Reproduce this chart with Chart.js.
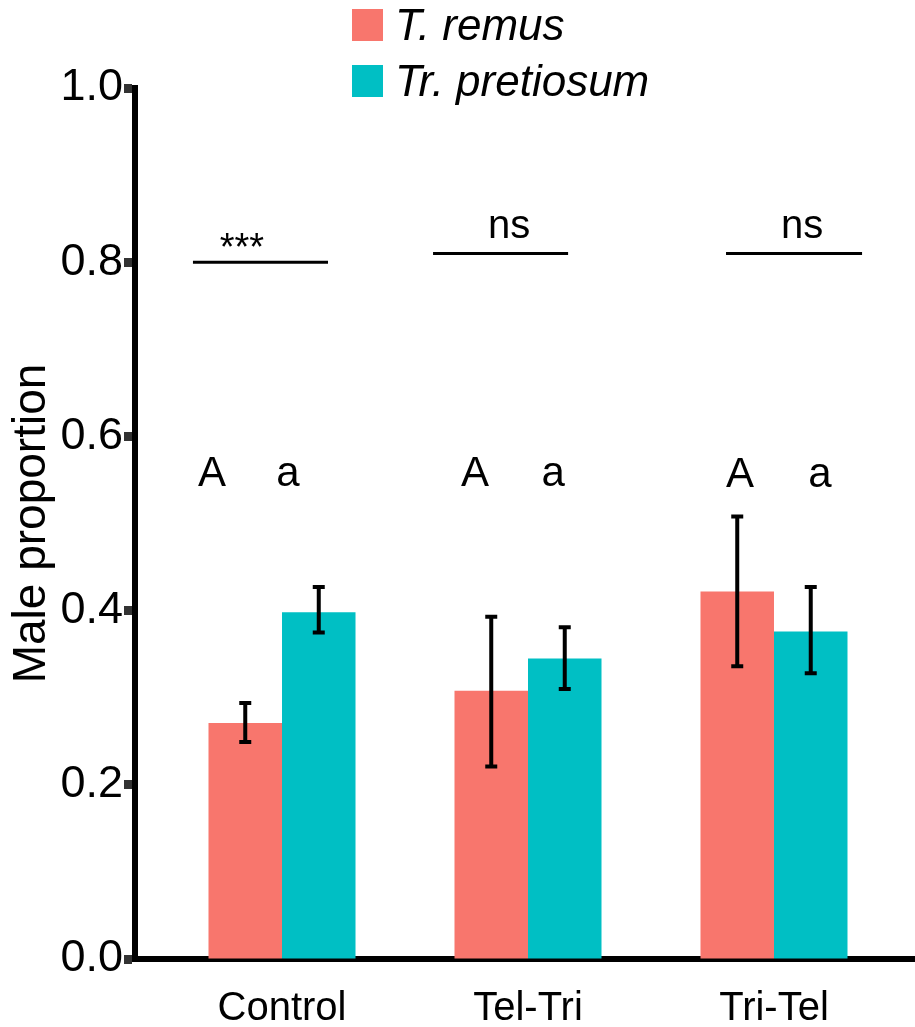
<!DOCTYPE html>
<html><head><meta charset="utf-8">
<script src="https://cdn.jsdelivr.net/npm/chart.js@4.4.1/dist/chart.umd.min.js"></script>
<style>
html,body{margin:0;padding:0;background:#fff;}
#wrap{position:relative;width:915px;height:1027px;}
#legend{position:absolute;left:352px;top:-3px;font-family:"Liberation Sans",Arial,Helvetica,sans-serif;font-style:italic;font-size:44px;color:#000;}
.item{display:flex;align-items:center;height:56px;white-space:nowrap;}
.box{width:31px;height:32px;margin-right:12px;flex:none;}
</style></head>
<body><div id="wrap"><canvas id="c" width="915" height="1027"></canvas><div id="legend"></div></div>
<script>
const categories = ['Control', 'Tel-Tri', 'Tri-Tel'];
const seriesNames = ['T. remus', 'Tr. pretiosum'];
const seriesColors = ['#F8766D', '#00BFC4'];
const remusMean = [0.271, 0.308, 0.422];
const remusLow  = [0.249, 0.221, 0.336];
const remusHigh = [0.294, 0.393, 0.508];
const pretMean = [0.398, 0.345, 0.376];
const pretLow  = [0.375, 0.310, 0.328];
const pretHigh = [0.427, 0.381, 0.427];
const yTickStep = 0.2;
const sigText = ['***', 'ns', 'ns'];
const sigLineY = [0.80, 0.81, 0.81];
const sigLineFrom = [-0.362, 0.614, 1.805];
const sigLineTo = [0.187, 1.163, 2.358];
const sigTextX = [-0.163, 0.923, 2.114];
const sigTextY = [0.803, 0.828, 0.828];
const groupLetters = ['A', 'a'];
const upperLetterX = [-0.285, 0.785, 1.862];
const lowerLetterX = [0.024, 1.102, 2.187];
const letterY = [0.543, 0.543, 0.542];

const FONT = '"Liberation Sans", Arial, Helvetica, sans-serif';
Chart.defaults.font.family = FONT;
Chart.defaults.color = '#000';

const means = [remusMean, pretMean];
const lows = [remusLow, pretLow];
const highs = [remusHigh, pretHigh];

const errorBars = {
  id: 'errorBars',
  afterDatasetsDraw(chart) {
    const ctx = chart.ctx, ys = chart.scales.y;
    ctx.save();
    ctx.strokeStyle = '#000';
    ctx.lineWidth = 4;
    chart.data.datasets.forEach((ds, d) => {
      const meta = chart.getDatasetMeta(d);
      meta.data.forEach((bar, i) => {
        const x = bar.x;
        const yH = ys.getPixelForValue(highs[d][i]);
        const yL = ys.getPixelForValue(lows[d][i]);
        ctx.beginPath();
        ctx.moveTo(x, yH); ctx.lineTo(x, yL);
        ctx.moveTo(x - 6, yH); ctx.lineTo(x + 6, yH);
        ctx.moveTo(x - 6, yL); ctx.lineTo(x + 6, yL);
        ctx.stroke();
      });
    });
    ctx.restore();
  }
};

const annotations = {
  id: 'annotations',
  afterDatasetsDraw(chart) {
    const ctx = chart.ctx, xs = chart.scales.x, ys = chart.scales.y;
    ctx.save();
    ctx.strokeStyle = '#000';
    ctx.fillStyle = '#000';
    ctx.lineWidth = 3;
    ctx.textAlign = 'center';
    ctx.textBaseline = 'alphabetic';
    categories.forEach((c, i) => {
      const y = ys.getPixelForValue(sigLineY[i]);
      ctx.beginPath();
      ctx.moveTo(xs.getPixelForValue(sigLineFrom[i]), y);
      ctx.lineTo(xs.getPixelForValue(sigLineTo[i]), y);
      ctx.stroke();
      ctx.font = (sigText[i] === '***' ? '38px ' : '40px ') + FONT;
      ctx.fillText(sigText[i], xs.getPixelForValue(sigTextX[i]), ys.getPixelForValue(sigTextY[i]));
      ctx.font = '42px ' + FONT;
      ctx.fillText(groupLetters[0], xs.getPixelForValue(upperLetterX[i]), ys.getPixelForValue(letterY[i]));
      ctx.fillText(groupLetters[1], xs.getPixelForValue(lowerLetterX[i]), ys.getPixelForValue(letterY[i]));
    });
    ctx.restore();
  }
};

const chart = new Chart(document.getElementById('c'), {
  type: 'bar',
  data: {
    datasets: seriesNames.map((name, d) => ({
      label: name,
      data: means[d].map((v, i) => ({x: i, y: v})),
      backgroundColor: seriesColors[d],
      borderWidth: 0,
      categoryPercentage: 0.5976,
      barPercentage: 1
    }))
  },
  options: {
    responsive: false,
    animation: false,
    layout: {padding: {top: 88, left: 0, right: 0, bottom: 0}},
    plugins: {legend: {display: false}, tooltip: {enabled: false}},
    scales: {
      x: {
        type: 'linear',
        offset: false,
        min: -0.5976,
        max: 2.5732,
        afterBuildTicks(scale) { scale.ticks = categories.map((c, i) => ({value: i})); },
        afterFit(scale) { scale.height = 68; },
        grid: {display: false, offset: false},
        border: {display: true, width: 6, color: '#000'},
        ticks: {
          callback: (v) => categories[v] ?? '',
          font: {size: 40},
          color: '#000',
          padding: 18,
          maxRotation: 0,
          autoSkip: false
        }
      },
      y: {
        min: 0,
        max: 1,
        afterFit(scale) { scale.width = 135; },
        grid: {drawOnChartArea: false, drawTicks: true, tickLength: 11, tickWidth: 9, tickColor: '#333'},
        border: {display: true, width: 6, color: '#000'},
        ticks: {
          stepSize: yTickStep,
          callback: (v) => Number(v).toFixed(1),
          font: {size: 45},
          color: '#000',
          padding: 1
        },
        title: {display: true, text: 'Male proportion', font: {size: 46}, color: '#000', padding: {top: 5, bottom: 0}}
      }
    }
  },
  plugins: [errorBars, annotations]
});

const legendEl = document.getElementById('legend');
chart.data.datasets.forEach((ds) => {
  const item = document.createElement('div');
  item.className = 'item';
  const box = document.createElement('span');
  box.className = 'box';
  box.style.background = ds.backgroundColor;
  const txt = document.createElement('span');
  txt.textContent = ds.label;
  item.appendChild(box);
  item.appendChild(txt);
  legendEl.appendChild(item);
});
</script>
</body></html>
